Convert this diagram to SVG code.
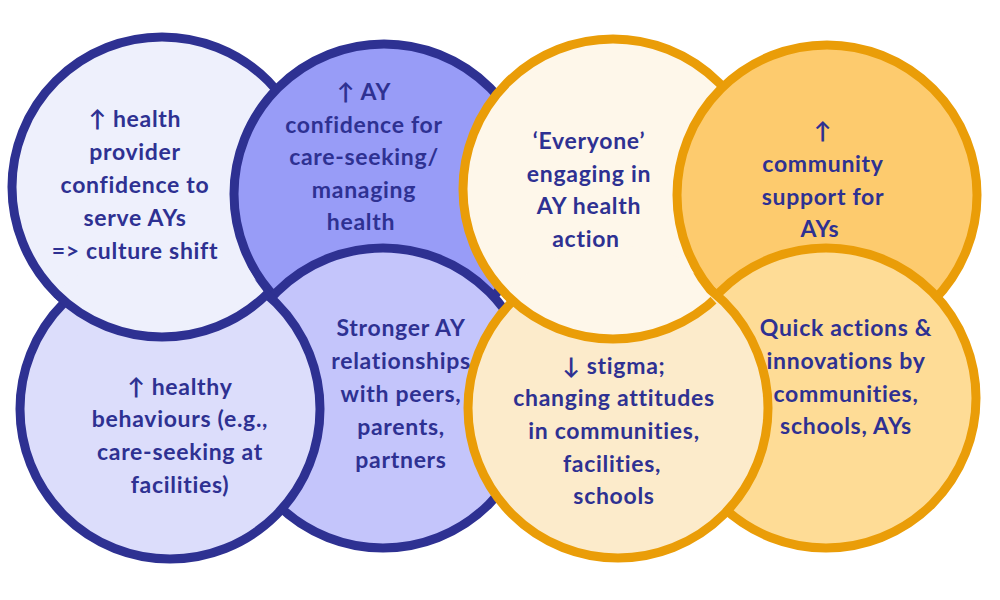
<svg xmlns="http://www.w3.org/2000/svg" width="1000" height="600" viewBox="0 0 1000 600">
<style>
.b{stroke:#2E3192;stroke-width:9}
.o{stroke:#EA9D08;stroke-width:9}
text{font-family:Lato,"Liberation Sans",sans-serif;font-weight:700;font-size:23px;fill:#2E3192;text-anchor:middle;letter-spacing:0.7px}
</style>
<defs>
<mask id="mA" maskUnits="userSpaceOnUse" x="0" y="0" width="1000" height="600">
<circle cx="170" cy="409" r="162" fill="#fff"/>
<circle cx="384" cy="194" r="155" fill="#000"/>
</mask>
<mask id="mE" maskUnits="userSpaceOnUse" x="0" y="0" width="1000" height="600">
<circle cx="618" cy="408" r="162" fill="#fff"/>
<circle cx="827" cy="195" r="155" fill="#000"/>
</mask>
</defs>
<rect width="1000" height="600" fill="#fff"/>
<g id="nodeA"><circle class="b" cx="162" cy="187" r="150" fill="#EEF0FC"/></g>
<g id="nodeB"><circle class="b" cx="384" cy="194" r="150" fill="#989CF7"/></g>
<g id="nodeD"><circle class="b" cx="383" cy="398" r="150" fill="#C4C5FB"/></g>
<g id="nodeC"><circle class="b" cx="170" cy="409" r="150" fill="#DCDDFB"/></g>
<g id="nodeA-overlap" mask="url(#mA)"><circle class="b" cx="162" cy="187" r="150" fill="#EEF0FC"/></g>
<g id="nodeE"><circle class="o" cx="613" cy="189" r="150" fill="#FEF7EA"/></g>
<g id="nodeF"><circle class="o" cx="827" cy="195" r="150" fill="#FDCB6E"/></g>
<g id="nodeH"><circle class="o" cx="826" cy="398" r="150" fill="#FEDC96"/></g>
<g id="nodeG"><circle class="o" cx="618" cy="408" r="150" fill="#FCEBCB"/></g>
<g id="nodeE-overlap" mask="url(#mE)"><circle class="o" cx="613" cy="189" r="150" fill="#FEF7EA"/></g>
<g id="connectors"></g>
<g id="labels">
<text><tspan x="135" y="127">↑ health</tspan><tspan x="135" y="160">provider</tspan><tspan x="135" y="193">confidence to</tspan><tspan x="135" y="226">serve AYs</tspan><tspan x="135" y="259">=&gt; culture shift</tspan></text>
<text><tspan x="364" y="100">↑ AY</tspan><tspan x="364" y="133">confidence for</tspan><tspan x="364" y="165">care-seeking/</tspan><tspan x="364" y="198">managing</tspan><tspan x="361" y="230">health</tspan></text>
<text><tspan x="180" y="395">↑ healthy</tspan><tspan x="180" y="427">behaviours (e.g.,</tspan><tspan x="180" y="460">care-seeking at</tspan><tspan x="180" y="493">facilities)</tspan></text>
<text><tspan x="401" y="336">Stronger AY</tspan><tspan x="401" y="369">relationships</tspan><tspan x="401" y="402">with peers,</tspan><tspan x="401" y="435">parents,</tspan><tspan x="401" y="468">partners</tspan></text>
<text><tspan x="589" y="149">‘Everyone’</tspan><tspan x="589" y="182">engaging in</tspan><tspan x="589" y="214">AY health</tspan><tspan x="586" y="247">action</tspan></text>
<text><tspan x="823" y="139">↑</tspan><tspan x="823" y="172">community</tspan><tspan x="823" y="205">support for</tspan><tspan x="820" y="237">AYs</tspan></text>
<text><tspan x="614" y="374">↓ stigma;</tspan><tspan x="614" y="406">changing attitudes</tspan><tspan x="614" y="439">in communities,</tspan><tspan x="612" y="472">facilities,</tspan><tspan x="614" y="504">schools</tspan></text>
<text><tspan x="846" y="336">Quick actions &amp;</tspan><tspan x="846" y="369">innovations by</tspan><tspan x="846" y="402">communities,</tspan><tspan x="846" y="434">schools, AYs</tspan></text>
</g>
</svg>
